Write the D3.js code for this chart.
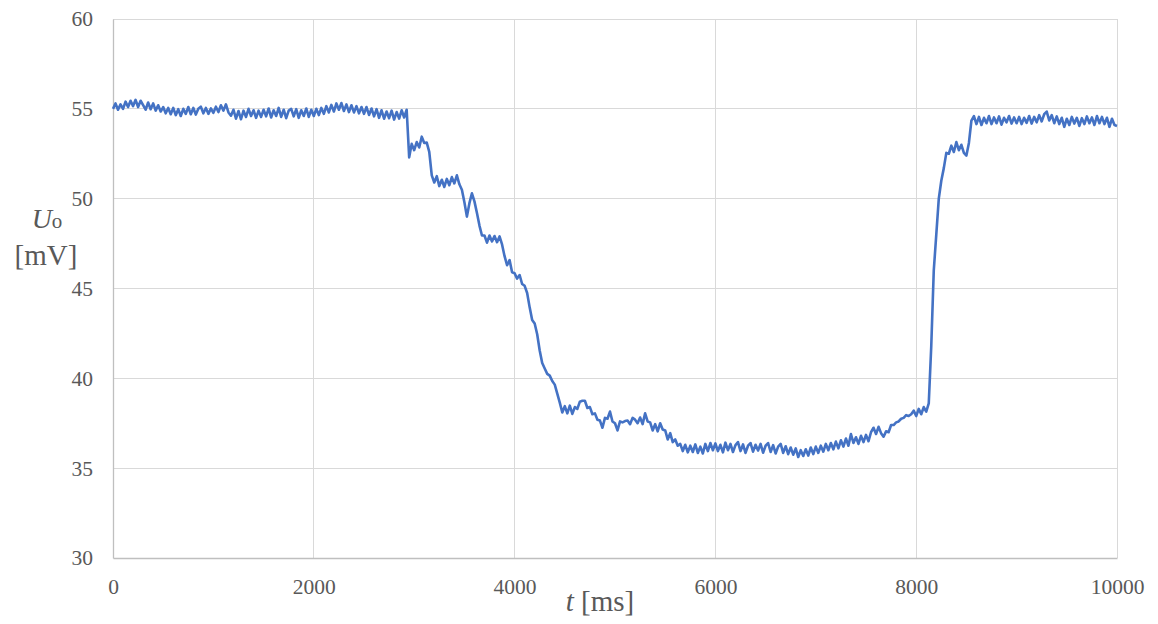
<!DOCTYPE html>
<html>
<head>
<meta charset="utf-8">
<script src="https://cdn.jsdelivr.net/npm/d3@7/dist/d3.min.js"></script>
<style>
  html, body { margin: 0; padding: 0; background: #ffffff; }
  svg { display: block; }
</style>
</head>
<body>
<svg id="chart" width="1158" height="624"></svg>
<script>
// Output voltage U_o sampled every 25 ms over 0–10000 ms
const sampleStep = 25;
const uo = [
  // 0–475 ms
  55.00, 55.30, 54.95, 55.25, 55.00, 55.40, 55.10, 55.45, 55.15, 55.50, 55.10, 55.45, 55.20, 54.95, 55.35, 54.98, 55.30, 54.90, 55.20, 54.85,
  // 500–975 ms
  55.10, 54.75, 55.05, 54.70, 55.05, 54.65, 54.98, 54.60, 55.00, 54.72, 55.10, 54.70, 55.05, 54.68, 55.00, 55.12, 54.75, 55.05, 54.72, 55.02,
  // 1000–1475 ms
  54.78, 55.12, 54.82, 55.20, 54.90, 55.25, 54.80, 54.62, 54.95, 54.45, 54.88, 54.42, 54.90, 54.55, 55.00, 54.60, 54.92, 54.50, 54.90, 54.55,
  // 1500–1975 ms
  54.95, 54.58, 55.02, 54.52, 54.92, 54.60, 55.05, 54.55, 54.95, 54.48, 54.90, 55.00, 54.58, 54.98, 54.50, 54.92, 54.60, 55.02, 54.55, 54.95,
  // 2000–2475 ms
  54.60, 55.00, 54.65, 55.05, 54.72, 55.15, 54.80, 55.22, 54.85, 55.30, 54.95, 55.32, 54.88, 55.25, 54.82, 55.20, 54.80, 55.15, 54.75, 55.10,
  // 2500–2975 ms
  54.72, 55.10, 54.66, 55.02, 54.58, 54.98, 54.50, 54.92, 54.45, 54.85, 54.48, 54.90, 54.40, 54.82, 54.46, 54.92, 54.52, 54.95, 52.30, 53.05,
  // 3000–3475 ms
  52.70, 53.15, 52.85, 53.45, 53.10, 53.12, 52.60, 51.30, 50.90, 51.25, 50.70, 51.05, 50.65, 51.10, 50.75, 51.20, 50.85, 51.30, 50.80, 50.50,
  // 3500–3975 ms
  49.80, 49.00, 49.75, 50.30, 49.85, 49.20, 48.50, 47.95, 47.95, 47.55, 47.95, 47.62, 47.92, 47.58, 47.90, 47.45, 46.80, 46.30, 46.58, 45.90,
  // 4000–4475 ms
  45.85, 45.55, 45.75, 45.25, 45.15, 44.75, 43.95, 43.25, 43.05, 42.45, 41.55, 40.85, 40.55, 40.25, 40.15, 39.85, 39.65, 39.15, 38.65, 38.10,
  // 4500–4975 ms
  38.45, 38.05, 38.48, 38.02, 38.40, 38.30, 38.70, 38.75, 38.75, 38.35, 38.40, 38.00, 38.05, 37.70, 37.65, 37.25, 37.80, 37.75, 38.15, 37.60,
  // 5000–5475 ms
  37.50, 37.10, 37.60, 37.55, 37.62, 37.65, 37.45, 37.80, 37.70, 37.50, 37.82, 37.45, 38.05, 37.60, 37.55, 37.10, 37.45, 37.05, 37.50, 37.15,
  // 5500–5975 ms
  37.10, 36.60, 36.95, 36.45, 36.60, 36.25, 36.35, 35.95, 36.30, 35.88, 36.25, 35.90, 36.32, 35.85, 36.20, 35.82, 36.35, 35.95, 36.40, 36.00,
  // 6000–6475 ms
  36.38, 35.95, 36.30, 35.88, 36.42, 36.00, 36.35, 35.90, 36.28, 36.45, 35.95, 36.32, 35.85, 36.25, 36.40, 35.92, 36.30, 35.98, 36.35, 35.86,
  // 6500–6975 ms
  36.25, 36.40, 35.90, 36.28, 35.82, 36.20, 36.35, 35.85, 36.22, 35.78, 36.15, 35.75, 36.10, 35.62, 36.00, 35.68, 36.05, 35.70, 36.15, 35.78,
  // 7000–7475 ms
  36.20, 35.85, 36.25, 35.92, 36.35, 36.00, 36.40, 36.05, 36.48, 36.10, 36.55, 36.20, 36.65, 36.25, 36.90, 36.40, 36.72, 36.35, 36.80, 36.45,
  // 7500–7975 ms
  36.85, 36.50, 37.00, 37.25, 36.90, 37.30, 36.95, 36.75, 37.05, 37.00, 37.40, 37.40, 37.55, 37.60, 37.75, 37.80, 37.95, 37.90, 38.00, 38.20,
  // 8000–8475 ms
  37.90, 38.30, 38.00, 38.40, 38.15, 38.60, 41.80, 46.00, 48.00, 50.00, 51.00, 51.70, 52.55, 52.50, 52.95, 52.60, 53.15, 52.70, 53.00, 52.55,
  // 8500–8975 ms
  52.40, 53.10, 54.35, 54.60, 54.15, 54.55, 54.10, 54.50, 54.20, 54.60, 54.15, 54.52, 54.20, 54.58, 54.12, 54.50, 54.25, 54.60, 54.18, 54.52,
  // 9000–9475 ms
  54.20, 54.55, 54.15, 54.50, 54.22, 54.60, 54.18, 54.55, 54.25, 54.65, 54.30, 54.70, 54.85, 54.35, 54.65, 54.20, 54.58, 54.15, 54.50, 54.00,
  // 9500–10000 ms
  54.45, 54.10, 54.55, 54.18, 54.50, 54.05, 54.48, 54.15, 54.58, 54.20, 54.52, 54.10, 54.60, 54.20, 54.55, 54.15, 54.50, 54.00, 54.45, 54.10, 54.05
];

const xTicks = [0, 2000, 4000, 6000, 8000, 10000];
const yTicks = [30, 35, 40, 45, 50, 55, 60];

const series = uo.map((v, i) => ({ t: i * sampleStep, u: v }));

const svg = d3.select("#chart");
const margin = { left: 113, right: 41, top: 19, bottom: 66 };
const W = 1158, H = 624;

const x = d3.scaleLinear().domain([0, 10000]).range([margin.left, W - margin.right]);
const y = d3.scaleLinear().domain([30, 60]).range([H - margin.bottom, margin.top]);

const textColor = "#595959";
const gridColor = "#d9d9d9";
const serif = "'Liberation Serif', 'Times New Roman', serif";

// Horizontal gridlines
svg.append("g")
  .selectAll("line")
  .data(yTicks.filter(d => d !== 30))
  .join("line")
  .attr("x1", x(0)).attr("x2", x(10000))
  .attr("y1", d => y(d)).attr("y2", d => y(d))
  .attr("stroke", gridColor).attr("stroke-width", 1)
  .attr("shape-rendering", "crispEdges");

// Vertical gridlines
svg.append("g")
  .selectAll("line")
  .data(xTicks.filter(d => d !== 0))
  .join("line")
  .attr("x1", d => x(d)).attr("x2", d => x(d))
  .attr("y1", y(30)).attr("y2", y(60))
  .attr("stroke", gridColor).attr("stroke-width", 1)
  .attr("shape-rendering", "crispEdges");

// Axes
const xAxis = d3.axisBottom(x).tickValues(xTicks).tickSize(0).tickPadding(21).tickFormat(d3.format("d"));
const yAxis = d3.axisLeft(y).tickValues(yTicks).tickSize(0).tickPadding(20).tickFormat(d3.format("d"));

const gx = svg.append("g").attr("transform", `translate(0,${y(30)})`).call(xAxis);
const gy = svg.append("g").attr("transform", `translate(${x(0)},0)`).call(yAxis);

[gx, gy].forEach(g => {
  g.select(".domain").attr("stroke", "#bfbfbf").attr("stroke-width", 1.3);
  g.selectAll(".tick text")
    .attr("fill", textColor)
    .style("font-family", serif)
    .style("font-size", "21.5px");
});
gx.selectAll(".tick text").attr("dy", "0.71em");

// Signal trace
const line = d3.line()
  .x(d => x(d.t))
  .y(d => y(d.u));

svg.append("path")
  .datum(series)
  .attr("d", line)
  .attr("fill", "none")
  .attr("stroke", "#4472c4")
  .attr("stroke-width", 2.6)
  .attr("stroke-linejoin", "round");

// Axis titles
const xTitle = svg.append("text")
  .attr("x", 600).attr("y", 611)
  .attr("text-anchor", "middle")
  .attr("fill", textColor)
  .style("font-family", serif)
  .style("font-size", "29px");
xTitle.append("tspan").style("font-style", "italic").text("t");
xTitle.append("tspan").text(" [ms]");

const yTitle1 = svg.append("text")
  .attr("x", 47).attr("y", 228)
  .attr("text-anchor", "middle")
  .attr("fill", textColor)
  .style("font-family", serif);
yTitle1.append("tspan").style("font-style", "italic").style("font-size", "28px").text("U");
yTitle1.append("tspan").style("font-size", "21px").text("o");

svg.append("text")
  .attr("x", 46).attr("y", 265)
  .attr("text-anchor", "middle")
  .attr("fill", textColor)
  .style("font-family", serif)
  .style("font-size", "29px")
  .text("[mV]");
</script>
</body>
</html>
